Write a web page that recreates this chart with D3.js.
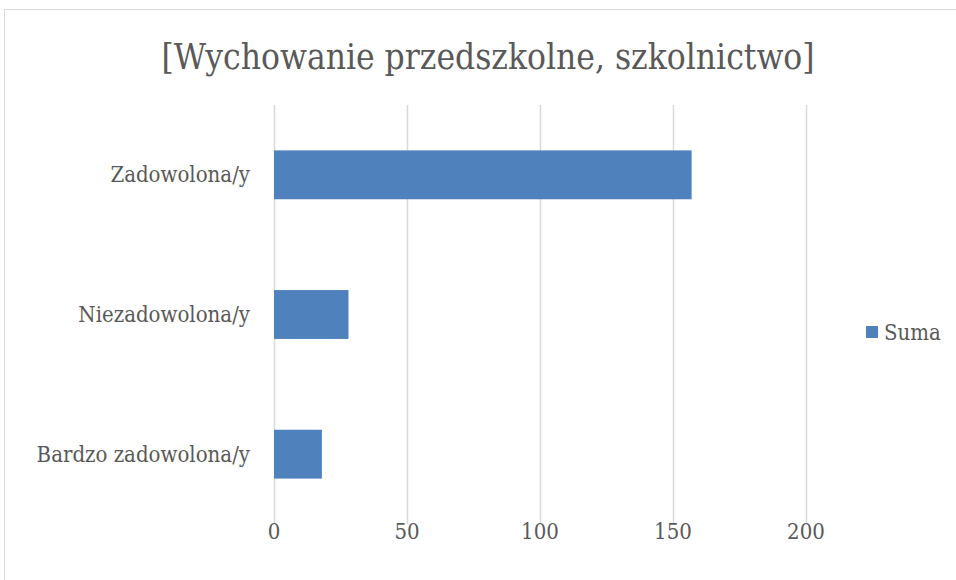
<!DOCTYPE html>
<html>
<head>
<meta charset="utf-8">
<script src="https://cdn.jsdelivr.net/npm/d3@7"></script>
<style>
  body { margin: 0; background: #fff; }
  text { font-family: "DejaVu Serif Condensed", "DejaVu Serif", serif; font-stretch: condensed; fill: #595959; }
</style>
</head>
<body>
<div id="chart"></div>
<script>
// data
const categories = ["Zadowolona/y", "Niezadowolona/y", "Bardzo zadowolona/y"];
const values = [157, 28, 18];
const ticks = [0, 50, 100, 150, 200];
const seriesName = "Suma";
const title = "[Wychowanie przedszkolne, szkolnictwo]";

const width = 956;
const height = 580;

const svg = d3.select("#chart")
  .append("svg")
  .attr("width", width)
  .attr("height", height);

// chart area border
svg.append("rect")
  .attr("x", 4.5)
  .attr("y", 9.5)
  .attr("width", width + 10)
  .attr("height", height + 10)
  .attr("fill", "none")
  .attr("stroke", "#d9d9d9");

const plot = { left: 274, right: 806, top: 105, bottom: 524 };

const x = d3.scaleLinear()
  .domain([0, 200])
  .range([plot.left, plot.right]);

const y = d3.scaleBand()
  .domain(categories)
  .range([plot.top, plot.bottom])
  .paddingInner(0.65)
  .paddingOuter(0.325);

// gridlines
svg.append("g")
  .selectAll("line")
  .data(ticks)
  .join("line")
  .attr("x1", d => x(d) + 0.5)
  .attr("x2", d => x(d) + 0.5)
  .attr("y1", plot.top)
  .attr("y2", plot.bottom)
  .attr("stroke", "#d9d9d9")
  .attr("stroke-width", 1.5);

// bars
svg.append("g")
  .selectAll("rect")
  .data(categories)
  .join("rect")
  .attr("x", x(0))
  .attr("y", d => y(d))
  .attr("width", (d, i) => x(values[i]) - x(0))
  .attr("height", y.bandwidth())
  .attr("fill", "#4f81bd");

// x tick labels
svg.append("g")
  .selectAll("text")
  .data(ticks)
  .join("text")
  .attr("x", d => x(d))
  .attr("y", 539)
  .attr("text-anchor", "middle")
  .attr("font-size", 22)
  .text(d => d);

// category labels
svg.append("g")
  .selectAll("text")
  .data(categories)
  .join("text")
  .attr("x", 250)
  .attr("y", d => y(d) + y.bandwidth() / 2 + 7.5)
  .attr("text-anchor", "end")
  .attr("font-size", 22)
  .text(d => d);

// title
svg.append("text")
  .attr("x", 488)
  .attr("y", 69)
  .attr("text-anchor", "middle")
  .attr("font-size", 35)
  .text(title);

// legend
svg.append("rect")
  .attr("x", 866)
  .attr("y", 326)
  .attr("width", 12)
  .attr("height", 12)
  .attr("fill", "#4f81bd");

svg.append("text")
  .attr("x", 884)
  .attr("y", 340)
  .attr("font-size", 22)
  .text(seriesName);
</script>
</body>
</html>
